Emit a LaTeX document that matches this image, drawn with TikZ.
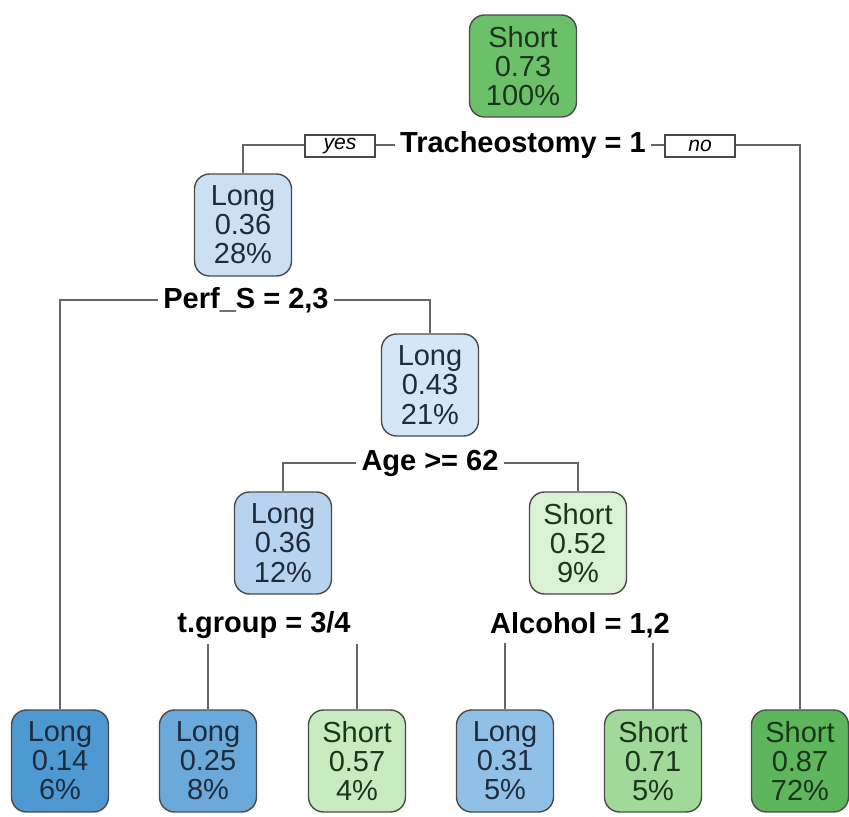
\documentclass[tikz,border=0pt]{standalone}
\usepackage{fontspec}
\setmainfont{Liberation Sans}
\usetikzlibrary{backgrounds}
\definecolor{g1}{HTML}{DAF1D4}
\definecolor{g2}{HTML}{C9EBC2}
\definecolor{g3}{HTML}{A0D99A}
\definecolor{g4}{HTML}{6CC06A}
\definecolor{g5}{HTML}{5DB65C}
\definecolor{b1}{HTML}{D5E6F6}
\definecolor{b2}{HTML}{CCE0F4}
\definecolor{b3}{HTML}{B8D3EF}
\definecolor{b4}{HTML}{91C0E6}
\definecolor{b5}{HTML}{6AA9DA}
\definecolor{b6}{HTML}{4E99D2}
\definecolor{pag}{HTML}{4A4A4A}
\definecolor{lt}{HTML}{1E2C3C}
\definecolor{st}{HTML}{1C361C}
\tikzset{
	leaf/.style={draw=pag, line width=0.8pt, rounded corners=0.3cm, minimum width=1.94cm, minimum height=2.04cm, align=center, inner sep=2pt, font=\fontsize{16.5}{16.6}\selectfont},
	lng/.style={leaf, fill=#1, text=lt},
	sht/.style={leaf, fill=#1, text=st},
	splitlbl/.style={fill=white, inner sep=3pt, font=\fontsize{16.5}{18}\selectfont\bfseries},
	yesno/.style={draw=pag, fill=white, line width=0.6pt, minimum width=1.4cm, minimum height=0.44cm, inner sep=1pt, font=\fontsize{12}{12}\selectfont\itshape},
	branch/.style={draw=pag!85, line width=0.9pt}
}
\begin{document}
\begin{tikzpicture}[x=0.02cm, y=-0.02cm]
			\useasboundingbox (0,0) rectangle (849,817);

			% tree nodes
			\node[sht=g4, minimum width=2.14cm] (n1) at (523,66) {Short\\0.73\\100\%};
			\node[lng=b2] (n2) at (243,225) {Long\\0.36\\28\%};
			\node[sht=g5] (n3) at (800,761) {Short\\0.87\\72\%};
			\node[lng=b6] (n4) at (60,761) {Long\\0.14\\6\%};
			\node[lng=b1] (n5) at (430,385) {Long\\0.43\\21\%};
			\node[lng=b3] (n10) at (283,543) {Long\\0.36\\12\%};
			\node[sht=g1] (n11) at (578,543) {Short\\0.52\\9\%};
			\node[lng=b5] (n20) at (208,761) {Long\\0.25\\8\%};
			\node[sht=g2] (n21) at (357,761) {Short\\0.57\\4\%};
			\node[lng=b4] (n22) at (505,761) {Long\\0.31\\5\%};
			\node[sht=g3] (n23) at (653,761) {Short\\0.71\\5\%};

			% split labels
			\node[splitlbl] (s1) at (523,145) {Tracheostomy = 1};
			\node[yesno] (yes) at (340,146) {yes};
			\node[yesno] (no) at (700,146) {no};
			\node[splitlbl] (s2) at (246,300) {Perf\_S = 2,3};
			\node[splitlbl] (s5) at (430,463) {Age >= 62};
			\node[splitlbl, minimum width=4.3cm] (s10) at (264,625) {t.group = 3/4};
			\node[splitlbl, minimum width=3.9cm] (s11) at (580,625) {Alcohol = 1,2};

			\begin{scope}[on background layer]
				\draw[branch] (n2.north) |- (s1.center) -| (n3.north);
				\draw[branch] (n4.north) |- (s2.center) -| (n5.north);
				\draw[branch] (n10.north) |- (s5.center) -| (n11.north);
				\draw[branch] (n20.north) |- (s10.center) -| (n21.north);
				\draw[branch] (n22.north) |- (s11.center) -| (n23.north);
			\end{scope}

		\end{tikzpicture}
\end{document}
